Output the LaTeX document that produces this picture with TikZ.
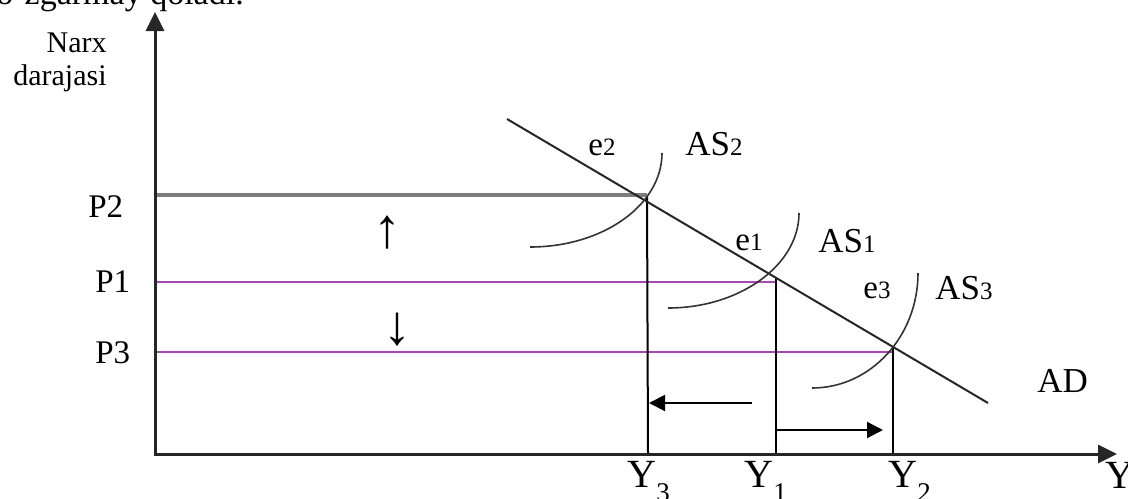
\documentclass[tikz,border=0pt]{standalone}
\usepackage{fontspec}
\setmainfont{Liberation Serif}
\usetikzlibrary{arrows.meta}
\definecolor{pline}{RGB}{168,72,178}
\definecolor{gline}{RGB}{125,125,125}
\newcommand\smdig[1]{{\fontsize{12.5}{14}\selectfont #1}}
\newcommand\subdig[1]{\raisebox{-7pt}{\fontsize{13.5}{15}\selectfont #1}}
\begin{document}
\begin{tikzpicture}[x=0.5pt,y=-0.5pt,
  axis/.style={line width=1.5pt,draw=black!85,-{Triangle[length=9.5pt,width=9pt]}},
  curve/.style={line width=0.8pt,draw=black!80},
  guide/.style={line width=1pt,draw=black},
  pguide/.style={line width=1.2pt,draw=pline},
  gguide/.style={line width=1.6pt,draw=gline},
  shiftarrow/.style={line width=1pt,-{Triangle[length=8pt,width=8pt]}},
  lbl/.style={inner sep=0pt,font=\fontsize{16.5}{18}\selectfont},
  axlbl/.style={inner sep=0pt,font=\fontsize{15}{17}\selectfont},
  curvelbl/.style={inner sep=0pt,font=\fontsize{17.5}{19}\selectfont},
  ylbl/.style={inner sep=0pt,font=\fontsize{20}{22}\selectfont},
  sym/.style={inner sep=0pt,font=\fontsize{28}{30}\selectfont}
]
\clip (0,0) rectangle (1128,498);

% top (cut) text
\node[inner sep=0pt,anchor=base west,font=\fontsize{17}{19}\selectfont] (toptext) at (-4,4) {o'zgarmay qoladi.};

% coordinates
\coordinate (O) at (155,454);
\coordinate (ytip) at (155,12);
\coordinate (xtip) at (1117,454);
\coordinate (p2) at (155,195);
\coordinate (p1) at (155,282);
\coordinate (p3) at (155,352);
\coordinate (e2) at (647,197);
\coordinate (e1) at (776,277);
\coordinate (e3) at (893,348);
\coordinate (e2h) at (647,195);
\coordinate (e1h) at (776,282);
\coordinate (e3h) at (893,352);
\coordinate (y3) at (648,454);
\coordinate (y1) at (776,454);
\coordinate (y2) at (893,454);
\coordinate (adA) at (507,119);
\coordinate (adB) at (988,403);

% guide lines
\draw[gguide] (p2) -- (e2h);
\draw[pguide] (p1) -- (e1h);
\draw[pguide] (p3) -- (e3h);
\draw[guide] (e2) -- (y3);
\draw[guide] (e1) -- (y1);
\draw[guide] (e3) -- (y2);

% AD line
\draw[line width=1pt,draw=black!85] (adA) -- (adB);

% AS curves (quarter ellipses)
\coordinate (as2a) at (530,247); \coordinate (as2b) at (662,153);
\coordinate (as1a) at (668,308); \coordinate (as1b) at (799,213);
\coordinate (as3a) at (812,388); \coordinate (as3b) at (918,273);
\draw[curve] (as2a) .. controls (603,247) and (662,205) .. (as2b);
\draw[curve] (as1a) .. controls (740,308) and (799,265) .. (as1b);
\draw[curve] (as3a) .. controls (871,388) and (918,336) .. (as3b);

% axes
\draw[axis] (O) -- (ytip);
\draw[axis] ([xshift=-0.75pt]O) -- (xtip);

% shift arrows
\coordinate (la1) at (752,403); \coordinate (la2) at (649,403);
\coordinate (ra1) at (776,430); \coordinate (ra2) at (883,430);
\draw[shiftarrow] (la1) -- (la2);
\draw[shiftarrow] (ra1) -- (ra2);

% labels
\node[axlbl,anchor=base east] (narx) at (107,52) {Narx};
\node[axlbl,anchor=base east] (daraj) at (107,85) {darajasi};
\node[lbl,anchor=base west] (P2) at (88,217) {P2};
\node[lbl,anchor=base west] (P1) at (95,292) {P1};
\node[lbl,anchor=base west] (P3) at (95,363) {P3};

\node[sym] (up) at (387,233) {↑};
\node[sym] (down) at (397,330) {↓};

\node[lbl,anchor=base west] (le2) at (588,155) {e\smdig{2}};
\node[curvelbl,anchor=base west] (las2) at (685,155) {AS\smdig{2}};
\node[lbl,anchor=base west] (le1) at (735,250) {e\smdig{1}};
\node[curvelbl,anchor=base west] (las1) at (818,252) {AS\smdig{1}};
\node[lbl,anchor=base west] (le3) at (863,298) {e\smdig{3}};
\node[curvelbl,anchor=base west] (las3) at (935,299) {AS\smdig{3}};
\node[curvelbl,anchor=base west] (lad) at (1037,392) {AD};

\node[ylbl,anchor=base west] (lY3) at (627,487) {Y\subdig{3}};
\node[ylbl,anchor=base west] (lY1) at (744,487) {Y\subdig{1}};
\node[ylbl,anchor=base west] (lY2) at (888,487) {Y\subdig{2}};
\node[ylbl,anchor=base west] (lY) at (1105,488) {Y};
\end{tikzpicture}
\end{document}
